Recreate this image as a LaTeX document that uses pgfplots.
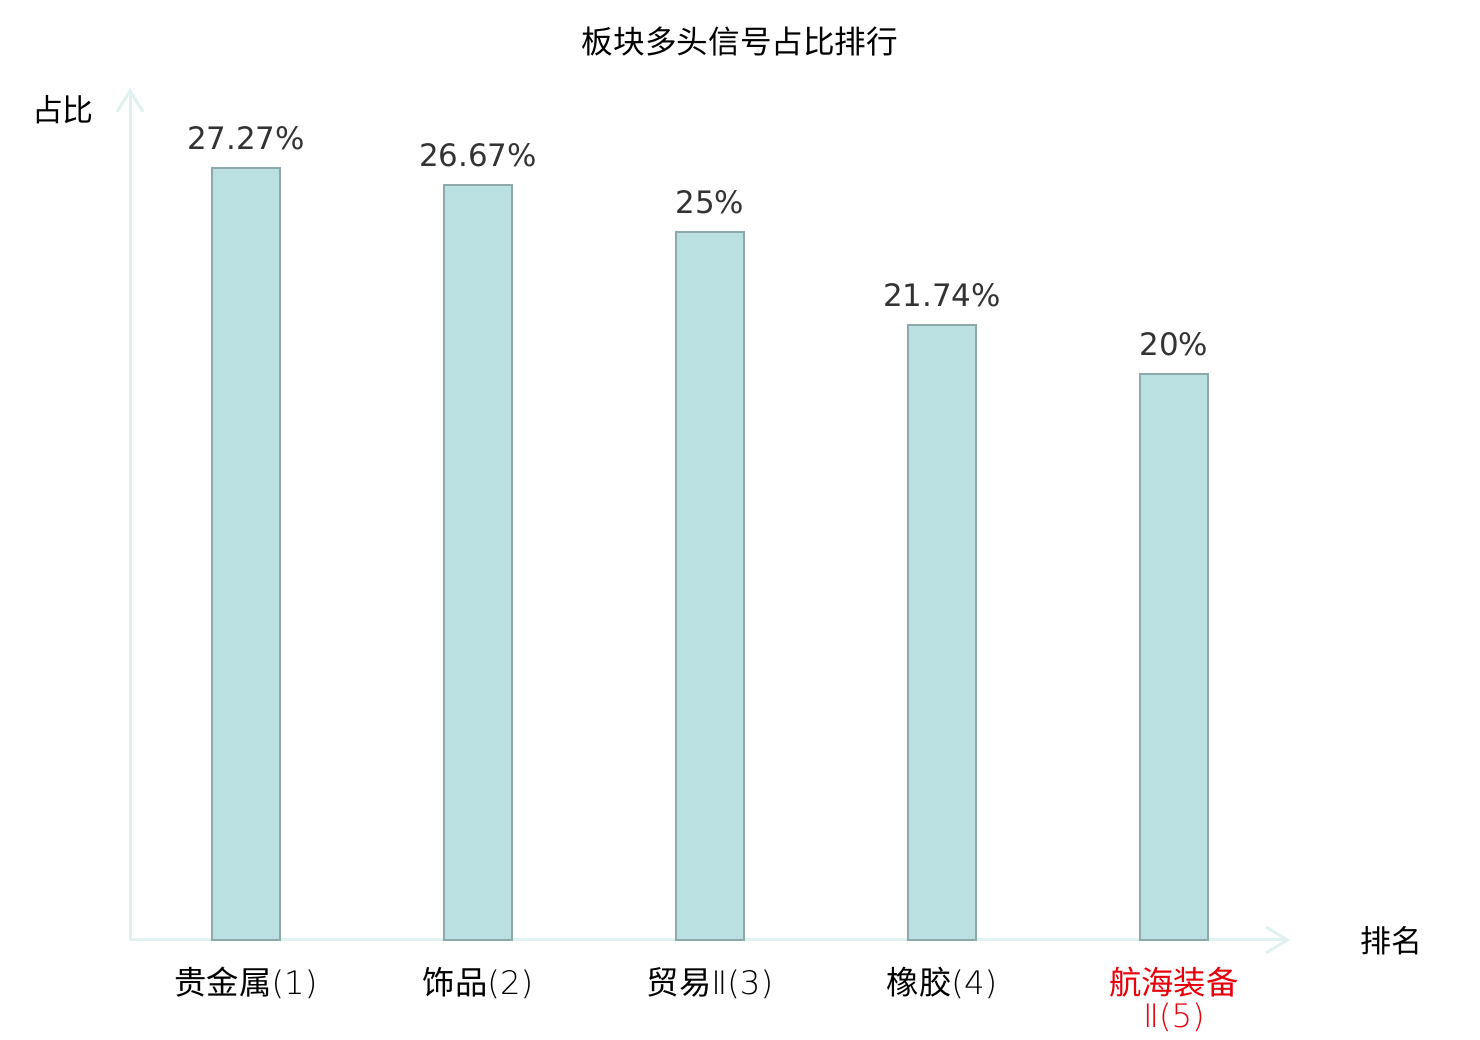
\documentclass[border=0pt]{standalone}
\usepackage{fontspec}
\setmainfont{DejaVu Sans}
\newfontfamily\cjk{Noto Sans CJK SC}
\newfontfamily\thin{DejaVu Sans ExtraLight}
\usepackage{pgfplots}
\pgfplotsset{compat=1.18}
\usetikzlibrary{arrows.meta}
\definecolor{barfill}{HTML}{BBE0E2}
\definecolor{baredge}{HTML}{8DA9A9}
\definecolor{axcol}{HTML}{DFF2EF}
\definecolor{txt}{HTML}{333333}
\definecolor{redlab}{HTML}{E8000B}
\begin{document}
\begin{tikzpicture}[x=1mm,y=1mm]
\useasboundingbox (0,0) rectangle (148,104);
\begin{axis}[
  at={(13mm,10mm)}, anchor=south west,
  scale only axis, width=116mm, height=85.2mm,
  xmin=-0.5, xmax=4.5, ymin=0, ymax=30.1,
  axis x line=bottom, axis y line=left,
  axis line style={draw=axcol, line width=0.3mm, -{Straight Barb[length=2.1mm,width=2.6mm,line width=0.3mm]}},
  xtick=data,
  xticklabels={{贵金属{\thin(1)}},{饰品{\thin(2)}},{贸易{\thin Ⅱ(3)}},{橡胶{\thin(4)}},{\color{redlab}航海装备\\\color{redlab}{\thin Ⅱ(5)}}},
  xticklabel style={font=\cjk\fontsize{9.2pt}{9.3pt}\selectfont, align=center, anchor=north, yshift=-1.5mm},
  major tick length=0pt,
  ytick=\empty,
  ybar, bar width=6.8mm,
  nodes near coords={\pgfmathprintnumber{\pgfplotspointmeta}\%},
  every node near coord/.append style={font=\fontsize{8.8pt}{10pt}\selectfont, text=txt, anchor=south, inner sep=0pt, yshift=1.7mm},
  /pgf/number format/assume math mode=true,
  clip=false,
]
\addplot[fill=barfill, draw=baredge, line width=0.2mm] coordinates {(0,27.27) (1,26.67) (2,25) (3,21.74) (4,20)};
\end{axis}
\node[font=\cjk\fontsize{9pt}{10pt}\selectfont] at (74,99.8) {板块多头信号占比排行};
\node[font=\cjk\fontsize{8.8pt}{10pt}\selectfont] at (6.3,93) {占比};
\node[font=\cjk\fontsize{8.8pt}{10pt}\selectfont] at (139.1,9.9) {排名};
\end{tikzpicture}
\end{document}
